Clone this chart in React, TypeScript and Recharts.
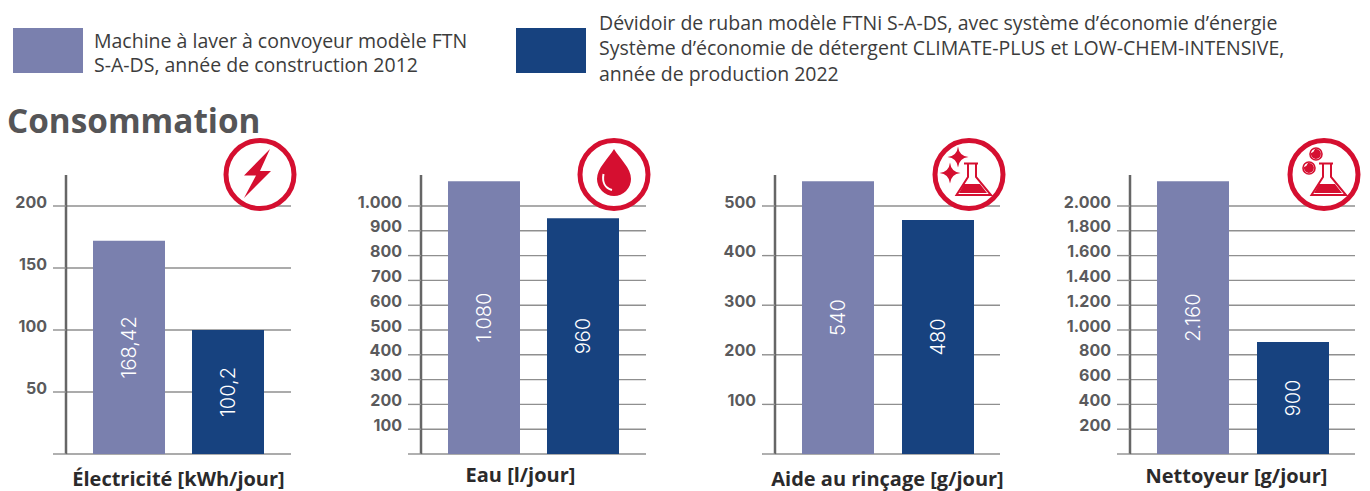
import { Bar, BarChart, CartesianGrid, LabelList, XAxis, YAxis } from "recharts";

const GRID = "#8f8f8f";
const AXIS = "#666666";
const TICK_TEXT = "#5a5a5c";
const OLD_COLOR = "#7a80ae";
const NEW_COLOR = "#17427f";
const RED = "#d50f30";

const oldMachineName = ["Machine à laver à convoyeur modèle FTN", "S-A-DS, année de construction 2012"];
const newMachineName = [
  "Dévidoir de ruban modèle FTNi S-A-DS, avec système d’économie d’énergie",
  "Système d’économie de détergent CLIMATE-PLUS et LOW-CHEM-INTENSIVE,",
  "année de production 2022",
];

// bar heights as drawn, they differ a little from the printed labels
const electricityValues = [172, 100];
const electricityLabels = ["168,42", "100,2"];
const electricityTicks = [0, 50, 100, 150, 200];

const waterValues = [1100, 951];
const waterLabels = ["1.080", "960"];
const waterTicks = [0, 100, 200, 300, 400, 500, 600, 700, 800, 900, 1000];

const rinseValues = [550, 472];
const rinseLabels = ["540", "480"];
const rinseTicks = [0, 100, 200, 300, 400, 500];

const cleanerValues = [2200, 903];
const cleanerLabels = ["2.160", "900"];
const cleanerTicks = [0, 200, 400, 600, 800, 1000, 1200, 1400, 1600, 1800, 2000];

const formatTick = (v: number) => (v === 0 ? "" : String(v).replace(/\B(?=(\d{3})+$)/g, "."));

function Panel({ left, axisX, title, titleDx, titleDy, values, labels, ticks, max, gap }: any) {
  const data = [{ name: title, oldM: values[0], newM: values[1], oldLabel: labels[0], newLabel: labels[1] }];
  return (
    <div style={{ position: "absolute", left, top: 175 }}>
      <BarChart
        width={axisX - left + 225 + 12}
        height={316}
        data={data}
        margin={{ top: 0, right: 12, bottom: 0, left: 0 }}
        barSize={72}
        barGap={gap}
      >
        <CartesianGrid stroke={GRID} strokeWidth={1.4} vertical={false} syncWithTicks />
        <XAxis
          dataKey="name"
          height={37}
          axisLine={false}
          tickLine={false}
          tick={(p: any) => (
            <text
              x={p.x + titleDx}
              y={279 + titleDy}
              textAnchor="middle"
              fontFamily="'Open Sans'"
              fontWeight={700}
              fontSize={20}
              fill="#2b2a2b"
            >
              {p.payload.value}
            </text>
          )}
        />
        <YAxis
          width={axisX - left}
          domain={[0, max]}
          ticks={ticks}
          interval={0}
          axisLine={{ stroke: AXIS, strokeWidth: 2.5 }}
          tickLine={{ stroke: GRID, strokeWidth: 1.4 }}
          tickSize={13}
          tickMargin={6}
          tick={(p: any) => (
            <text
              x={p.x}
              y={p.y - 4}
              dy="0.355em"
              textAnchor="end"
              fontFamily="Inter"
              fontWeight={700}
              fontSize={16}
              fill={TICK_TEXT}
            >
              {formatTick(p.payload.value)}
            </text>
          )}
        />
        <Bar dataKey="oldM" fill={OLD_COLOR} isAnimationActive={false}>
          <LabelList dataKey="oldLabel" position="center" angle={-90} fill="#ffffff" fontFamily="Inter" fontWeight={300} fontSize={20} />
        </Bar>
        <Bar dataKey="newM" fill={NEW_COLOR} isAnimationActive={false}>
          <LabelList dataKey="newLabel" position="center" angle={-90} fill="#ffffff" fontFamily="Inter" fontWeight={300} fontSize={20} />
        </Bar>
      </BarChart>
    </div>
  );
}

const star = (cx: number, cy: number, r: number) =>
  `M${cx} ${cy - r}Q${cx + 1} ${cy - 1} ${cx + r} ${cy}Q${cx + 1} ${cy + 1} ${cx} ${cy + r}Q${cx - 1} ${cy + 1} ${cx - r} ${cy}Q${cx - 1} ${cy - 1} ${cx} ${cy - r}Z`;

function Flask() {
  return (
    <>
      <path d="M35 28.5H49M39 29V42L27.5 60H62L47 42V29" fill="none" stroke={RED} strokeWidth={2} />
      <path d="M35 49H51L58 58H30Z" fill={RED} />
    </>
  );
}

function Ball({ cx, cy }: { cx: number; cy: number }) {
  return (
    <>
      <circle cx={cx} cy={cy} r={6} fill="#fff" stroke={RED} strokeWidth={1.6} />
      <path d={`M${cx - 1} ${cy - 5}A5 5 0 1 1 ${cx - 5} ${cy - 1}A6 6 0 0 0 ${cx - 1} ${cy - 5}Z`} fill={RED} />
    </>
  );
}

function Icon({ left, children }: any) {
  return (
    <svg width={80} height={80} style={{ position: "absolute", left, top: 135 }}>
      <circle cx={40} cy={39.5} r={34} fill="#ffffff" stroke={RED} strokeWidth={5} />
      {children}
    </svg>
  );
}

function LegendText({ left, top, lines, lineHeight }: any) {
  return (
    <div
      style={{
        position: "absolute",
        left,
        top,
        fontFamily: "'Open Sans'",
        fontSize: 19.5,
        lineHeight: lineHeight + "px",
        color: "#3c3c3c",
        whiteSpace: "nowrap",
      }}
    >
      {lines.map((l: string) => (
        <div key={l}>{l}</div>
      ))}
    </div>
  );
}

export default function App() {
  return (
    <div style={{ position: "absolute", left: 0, top: 0, width: 1370, height: 491, background: "#fff", overflow: "hidden" }}>
      <div style={{ position: "absolute", left: 13, top: 28, width: 70, height: 45, background: OLD_COLOR }} />
      <LegendText left={94} top={29} lines={oldMachineName} lineHeight={23.5} />
      <div style={{ position: "absolute", left: 516, top: 28, width: 70, height: 45, background: NEW_COLOR }} />
      <LegendText left={599} top={9.5} lines={newMachineName} lineHeight={25.5} />
      <div
        style={{
          position: "absolute",
          left: 7,
          top: 97,
          fontFamily: "'Open Sans'",
          fontWeight: 700,
          fontSize: 33.3,
          lineHeight: "46px",
          color: "#555557",
        }}
      >
        Consommation
      </div>

      <Panel left={0} axisX={66} title="Électricité [kWh/jour]" titleDx={0} titleDy={32} values={electricityValues} labels={electricityLabels} ticks={electricityTicks} max={225} gap={27} />
      <Panel left={354} axisX={421} title="Eau [l/jour]" titleDx={-13} titleDy={28} values={waterValues} labels={waterLabels} ticks={waterTicks} max={1125} gap={27} />
      <Panel left={709} axisX={775} title="Aide au rinçage [g/jour]" titleDx={0} titleDy={32} values={rinseValues} labels={rinseLabels} ticks={rinseTicks} max={562.5} gap={28} />
      <Panel left={1064} axisX={1130} title="Nettoyeur [g/jour]" titleDx={-6} titleDy={29} values={cleanerValues} labels={cleanerLabels} ticks={cleanerTicks} max={2250} gap={28} />

      <Icon left={220}>
        <path d="M50 14L24 40.5H36L24 63L51 36H40Z" fill={RED} />
      </Icon>
      <Icon left={574}>
        <path d="M40 14C34 24 23 33 23 44A17 17 0 0 0 57 44C57 33 46 24 40 14Z" fill={RED} />
        <path d="M29.5 39C28 47 31 53 38 55" fill="none" stroke="#fff" strokeWidth={2} />
      </Icon>
      <Icon left={929}>
        <path d={star(29, 22, 10.5)} fill={RED} />
        <path d={star(21, 38, 10.5)} fill={RED} />
        <Flask />
      </Icon>
      <Icon left={1284}>
        <Ball cx={32} cy={19} />
        <Ball cx={25} cy={33} />
        <Flask />
      </Icon>
    </div>
  );
}
